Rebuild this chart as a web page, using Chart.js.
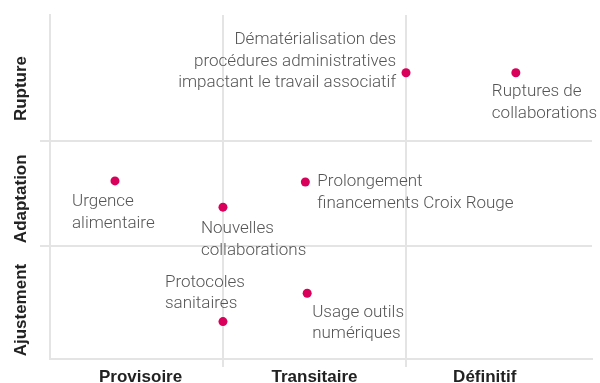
<!DOCTYPE html>
<html>
<head>
<meta charset="utf-8">
<script src="https://cdn.jsdelivr.net/npm/chart.js@4"></script>
<style>
  html, body { margin: 0; padding: 0; background: #fff; }
  #wrap { width: 600px; height: 383px; }
</style>
</head>
<body>
<div id="wrap"><canvas id="chart"></canvas></div>
<script>
// axis categories and where their labels sit on the scale
const xCategories = ["Provisoire", "Transitaire", "Définitif"]
const xCategoryPos = [0.55, 1.5, 2.43]
const yCategories = ["Ajustement", "Adaptation", "Rupture"]
const yCategoryPos = [0.39, 1.45, 2.5]
const xBounds = [1, 2]
const yBounds = [1, 2]

// the points
const names = [
  ["Urgence", "alimentaire"],
  ["Nouvelles", "collaborations"],
  ["Protocoles", "sanitaires"],
  ["Prolongement", "financements Croix Rouge"],
  ["Usage outils", "numériques"],
  ["Dématérialisation des", "procédures administratives", "impactant le travail associatif"],
  ["Ruptures de", "collaborations"]
]
const xValues = [0.41, 1.0, 1.0, 1.45, 1.46, 2.0, 2.6]
const yValues = [1.62, 1.37, 0.28, 1.61, 0.55, 2.65, 2.65]

// label offsets from each dot, in pixels
const placement = [
  { dx: -43, dy: 21, align: "left" },
  { dx: -22, dy: 22, align: "left" },
  { dx: -58, dy: -39, align: "left" },
  { dx: 12, dy: 0, align: "left" },
  { dx: 5, dy: 19, align: "left" },
  { dx: -10, dy: -33, align: "right" },
  { dx: -24, dy: 19, align: "left" }
]

const PINK = "#d9005b"
const GRID = "#e4e4e4"
const LABEL_FONT = "300 17px Roboto, 'Liberation Sans', sans-serif"
const AXIS_FONT = "bold 17px 'Liberation Sans', Arial, sans-serif"
const LINE_H = 21.5

const isBound = (list, v) => list.some(b => Math.abs(b - v) < 1e-6)

const pointLabels = {
  id: "pointLabels",
  afterDatasetsDraw(chart) {
    const { ctx } = chart
    const meta = chart.getDatasetMeta(0)
    ctx.save()
    ctx.font = LABEL_FONT
    ctx.fillStyle = "#555"
    ctx.textBaseline = "middle"
    meta.data.forEach((el, i) => {
      const p = placement[i]
      ctx.textAlign = p.align
      names[i].forEach((line, j) => {
        ctx.fillText(line, el.x + p.dx, el.y + p.dy + j * LINE_H)
      })
    })
    ctx.restore()
  }
}

const yLabels = {
  id: "yLabels",
  afterDraw(chart) {
    const { ctx } = chart
    const y = chart.scales.y
    ctx.save()
    ctx.font = AXIS_FONT
    ctx.fillStyle = "#222"
    ctx.textAlign = "center"
    ctx.textBaseline = "middle"
    yCategories.forEach((label, i) => {
      ctx.save()
      ctx.translate(21, y.getPixelForValue(yCategoryPos[i]))
      ctx.rotate(-Math.PI / 2)
      ctx.fillText(label, 0, 0)
      ctx.restore()
    })
    ctx.restore()
  }
}

new Chart(document.getElementById("chart"), {
  type: "scatter",
  data: {
    datasets: [{
      data: xValues.map((x, i) => ({ x, y: yValues[i] })),
      backgroundColor: PINK,
      borderWidth: 0,
      pointRadius: 4.5,
      pointHoverRadius: 4.5
    }]
  },
  options: {
    responsive: true,
    maintainAspectRatio: false,
    animation: false,
    events: [],
    layout: { padding: { top: 15, right: 8, left: 0, bottom: 0 } },
    plugins: { legend: { display: false }, tooltip: { enabled: false } },
    scales: {
      x: {
        type: "linear",
        min: 0.055,
        max: 3.016,
        afterBuildTicks: s => {
          s.ticks = [...xBounds, ...xCategoryPos].sort((a, b) => a - b).map(v => ({ value: v }))
        },
        afterFit: s => { s.height = 24 },
        ticks: {
          autoSkip: false,
          maxRotation: 0,
          padding: 0,
          color: "#222",
          font: { family: "'Liberation Sans', Arial, sans-serif", size: 17, weight: "bold" },
          callback: v => {
            const i = xCategoryPos.findIndex(p => Math.abs(p - v) < 1e-6)
            return i >= 0 ? xCategories[i] : ""
          }
        },
        grid: {
          color: c => isBound(xBounds, c.tick.value) ? GRID : "rgba(0,0,0,0)",
          tickColor: c => isBound(xBounds, c.tick.value) ? GRID : "rgba(0,0,0,0)",
          lineWidth: 2,
          drawTicks: true,
          tickLength: 8
        },
        border: { display: true, color: GRID, width: 2 }
      },
      y: {
        type: "linear",
        min: -0.076,
        max: 3.2,
        afterBuildTicks: s => {
          s.ticks = yBounds.map(v => ({ value: v }))
        },
        afterFit: s => { s.width = 50 },
        ticks: { display: false },
        grid: {
          color: GRID,
          tickColor: GRID,
          lineWidth: 2,
          drawTicks: true,
          tickLength: 10
        },
        border: { display: true, color: GRID, width: 2 }
      }
    }
  },
  plugins: [pointLabels, yLabels]
})
</script>
</body>
</html>
